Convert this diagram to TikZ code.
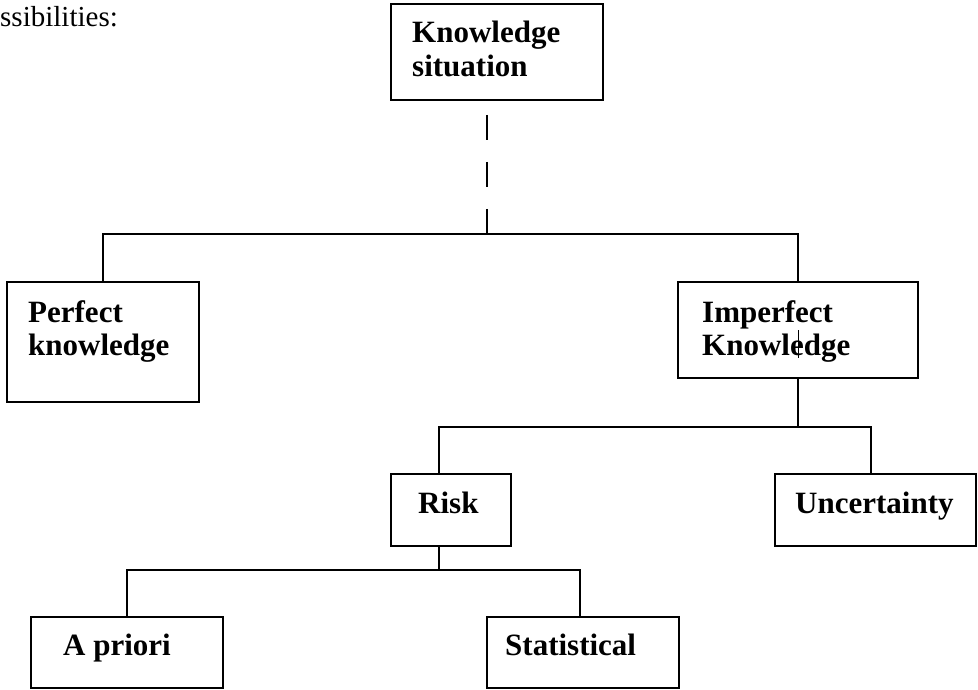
\documentclass[tikz,border=0pt]{standalone}
\usepackage{fontspec}
\setmainfont{Liberation Serif}
\tikzset{
  box/.style={draw, line width=1.8pt, inner sep=0pt, outer sep=0pt, anchor=north west, fill=white},
  lbl/.style={anchor=base west, inner sep=0pt, font=\fontsize{31}{36}\selectfont\bfseries},
  conn/.style={line width=1.5pt},
}
\begin{document}
\begin{tikzpicture}[x=1pt,y=1pt]
\useasboundingbox (0,0) rectangle (978,-690);
\node[anchor=base west, inner sep=0pt, font=\fontsize{29}{34}\selectfont] (poss) at (0,-27) {ssibilities:};

% boxes
\node[box, minimum width=212pt, minimum height=96pt] (ks) at (391,-4) {};
\node[box, minimum width=192pt, minimum height=120pt] (pk) at (7,-282) {};
\node[box, minimum width=240pt, minimum height=96pt] (ik) at (678,-282) {};
\node[box, minimum width=120pt, minimum height=72pt] (rk) at (391,-474) {};
\node[box, minimum width=201pt, minimum height=72pt] (un) at (775,-474) {};
\node[box, minimum width=192pt, minimum height=71pt] (ap) at (31,-617) {};
\node[box, minimum width=192pt, minimum height=71pt] (st) at (487,-617) {};

% junctions
\coordinate (j1) at (487,-234);
\coordinate (j2) at (798,-427);
\coordinate (rkx) at (439,-474);
\coordinate (unx) at (871,-474);
\coordinate (j3) at (439,-570);
\coordinate (apx) at (127,-617);
\coordinate (stx) at (580,-617);

% connectors
\draw[conn, dash pattern=on 25pt off 22pt, dash phase=32pt] (j1 |- ks.south) -- (j1);
\draw[conn] (pk.north) |- (j1) -| (ik.north);
\draw[conn] (ik.south) -- (j2);
\draw[conn] (rkx) |- (j2) -| (unx);
\draw[conn] (rkx |- rk.south) -- (j3);
\draw[conn] (apx) |- (j3) -| (stx);

% labels
\node[lbl] (kst1) at (412,-43) {Knowledge};
\node[lbl] (kst2) at (412,-77) {situation};
\node[lbl] (pkt1) at (28,-322) {Perfect};
\node[lbl] (pkt2) at (28,-355) {knowledge};
\node[lbl] (ikt1) at (702,-322) {Imperfect};
\node[lbl] (ikt2) at (702,-355) {Knowledge};
\node[lbl] (rkt) at (418,-513) {Risk};
\node[lbl] (unt) at (795,-513) {Uncertainty};
\node[lbl] (apt) at (63,-655) {A priori};
\node[lbl] (stt) at (505,-655) {Statistical};

% stray stub inside the Imperfect Knowledge box
\draw[line width=1pt] (ik.center |- 0,-330) -- (ik.center |- 0,-358);
\end{tikzpicture}
\end{document}
